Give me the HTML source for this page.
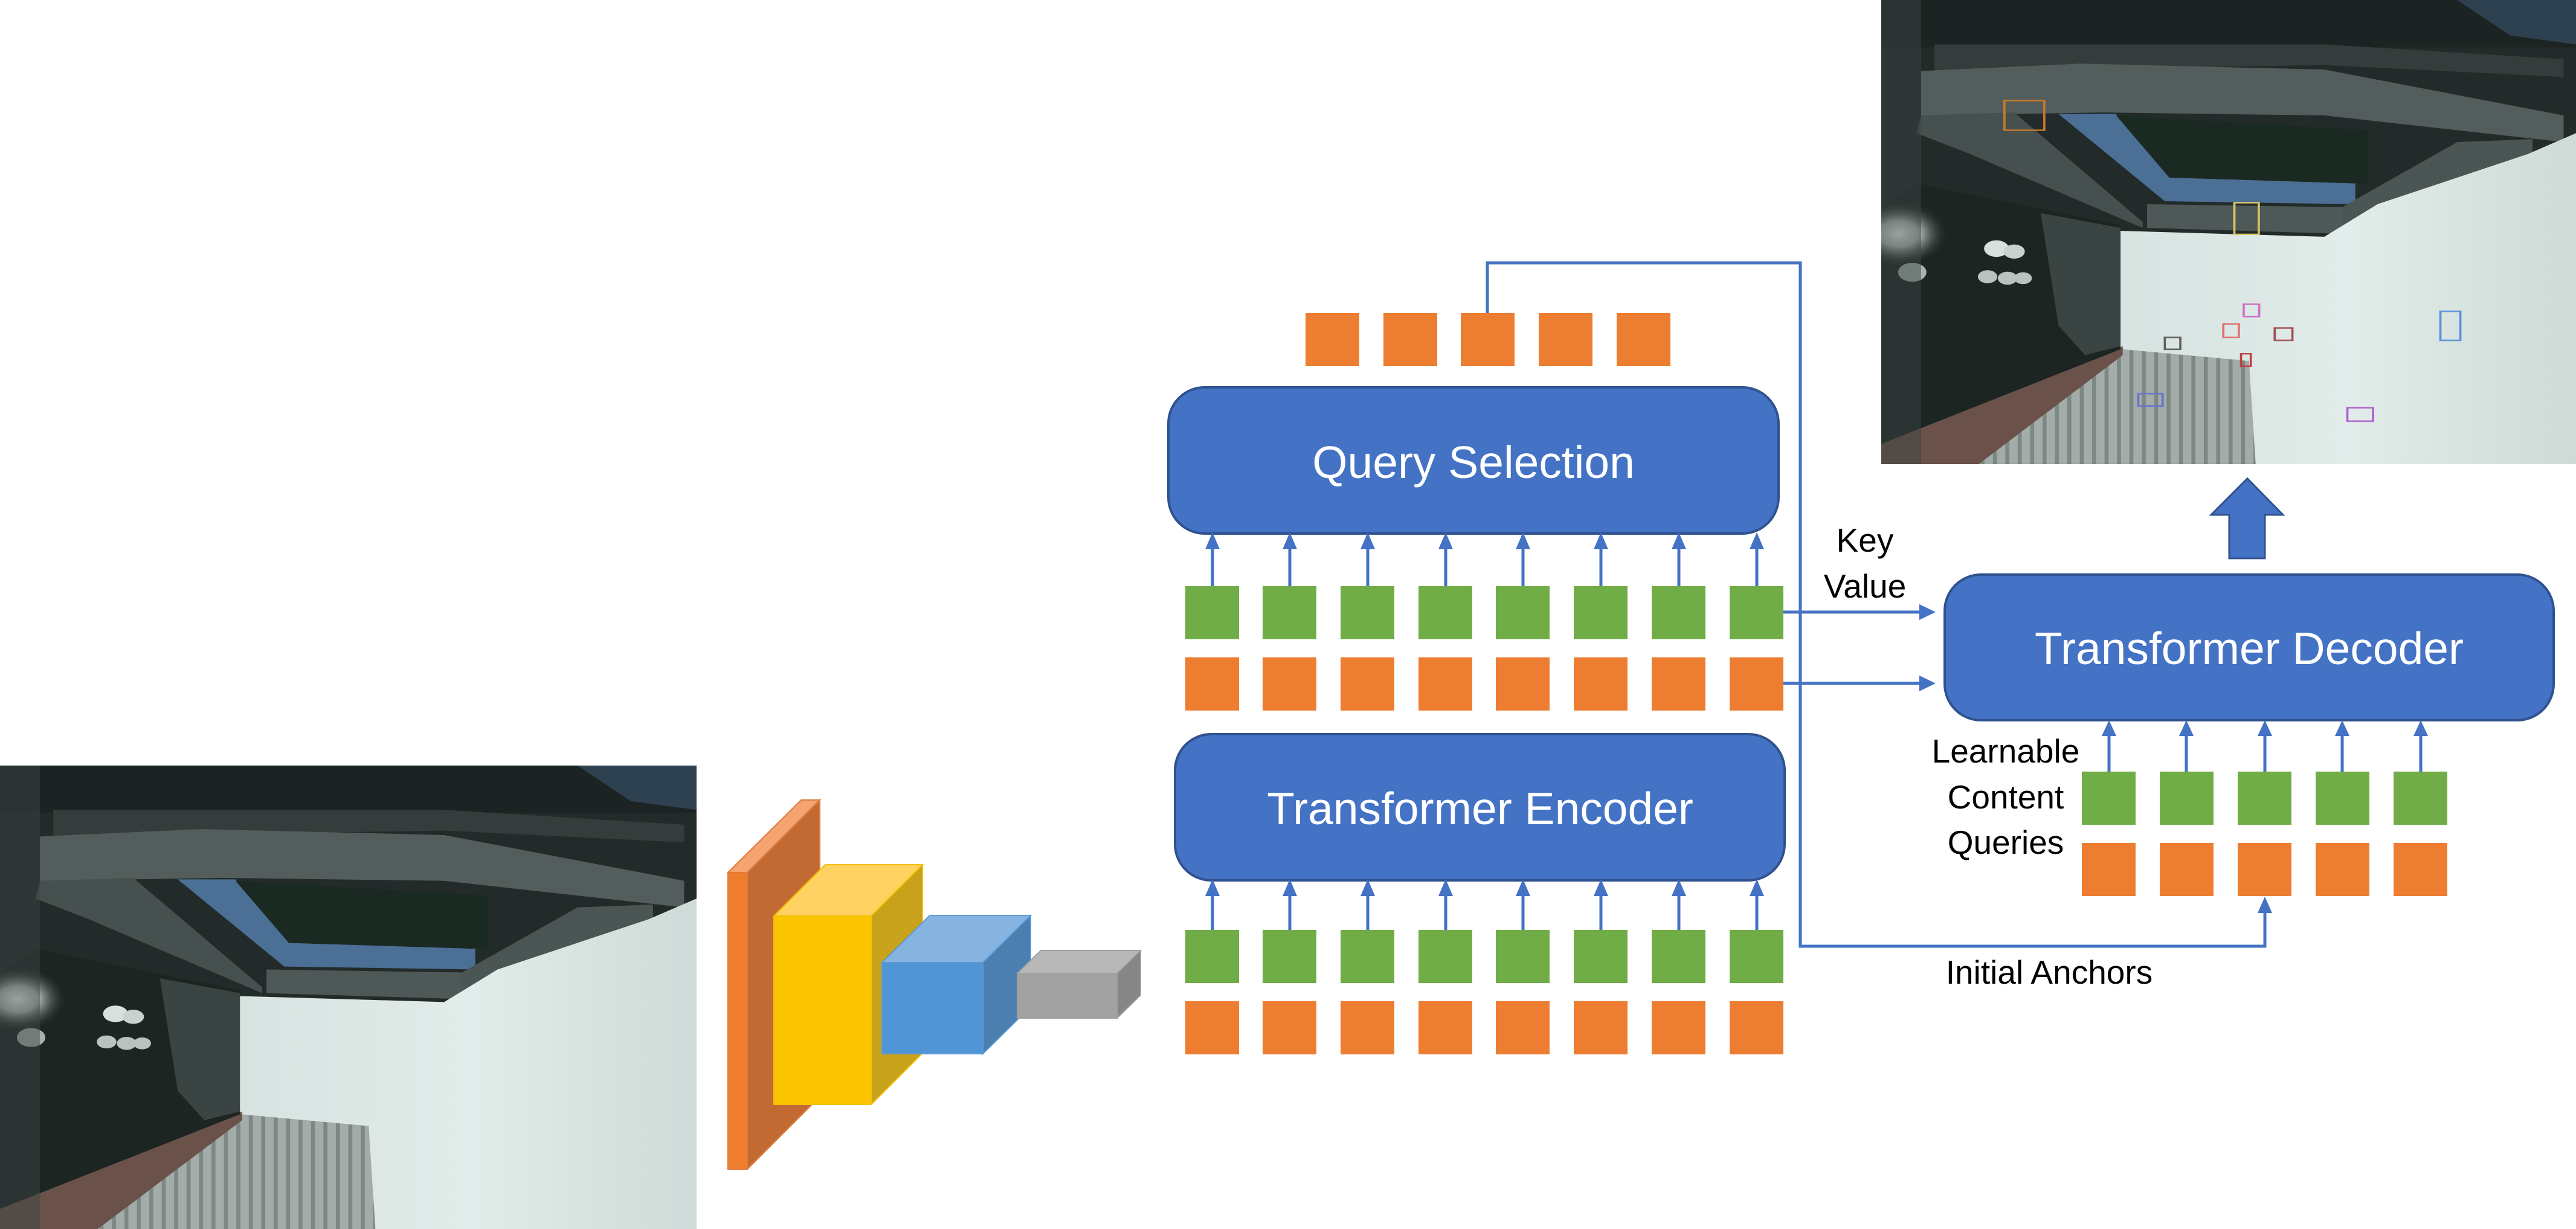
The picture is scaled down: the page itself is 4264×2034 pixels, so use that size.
<!DOCTYPE html>
<html><head><meta charset="utf-8"><style>
html,body{margin:0;padding:0;background:#fff;}
svg{display:block;}
text{font-family:"Liberation Sans",sans-serif;}
</style></head><body>
<svg width="4264" height="2034" viewBox="0 0 4264 2034" xmlns="http://www.w3.org/2000/svg">
<defs>
<linearGradient id="wall" x1="0" y1="0" x2="1" y2="0"><stop offset="0" stop-color="#d6e3e0"/><stop offset="0.5" stop-color="#e2ecea"/><stop offset="1" stop-color="#cfdbd8"/></linearGradient>
<radialGradient id="glow"><stop offset="0" stop-color="#ffffff"/><stop offset="0.4" stop-color="#dfe9e6" stop-opacity="0.8"/><stop offset="1" stop-color="#2a3331" stop-opacity="0"/></radialGradient>
<pattern id="stripes" width="28" height="40" patternUnits="userSpaceOnUse"><rect width="28" height="40" fill="#a3aca8"/><rect width="9" height="40" fill="#7d8783"/></pattern>
<symbol id="photo" viewBox="0 0 1568 1568" preserveAspectRatio="none">
<rect width="1568" height="1568" fill="#222b29"/>
<rect x="0" y="0" width="1568" height="160" fill="#1c2423"/>
<polygon points="1300,0 1568,0 1568,150 1420,120" fill="#2e4150"/>
<polygon points="120,150 1000,150 1540,200 1540,260 1000,220 120,240" fill="#343d3b"/>
<polygon points="90,240 450,215 1000,235 1540,390 1540,480 1000,390 500,380 90,390" fill="#535e5c"/>
<polygon points="90,390 300,380 590,750 590,770 200,520 80,450" fill="#46504e"/>
<polygon points="400,385 530,385 650,600 1070,620 1070,690 640,680" fill="#4b6f95"/>
<polygon points="530,390 1100,440 1100,620 650,600" fill="#1a2a22"/>
<polygon points="600,690 1040,700 1040,790 600,770" fill="#4e5856"/>
<polygon points="1040,700 1300,480 1470,470 1470,540 1110,720 1040,790" fill="#4b5553"/>
<polygon points="540,780 1000,800 1120,690 1460,520 1568,450 1568,1568 840,1568 830,1220 540,1180" fill="url(#wall)"/>
<polygon points="545,1180 830,1220 845,1568 220,1568" fill="url(#stripes)"/>
<polygon points="0,1500 545,1170 545,1200 220,1568 0,1568" fill="#6a524a"/>
<polygon points="80,620 540,760 540,1180 0,1500 0,700" fill="#1d2523"/>
<polygon points="360,720 540,770 540,1170 460,1200 400,1100" fill="#3a4442"/>
<circle cx="40" cy="790" r="110" fill="url(#glow)"/>
<circle cx="260" cy="840" r="28" fill="#d6e0dd"/><circle cx="300" cy="850" r="24" fill="#c8d2cf"/>
<circle cx="240" cy="935" r="22" fill="#b8c2bf"/><circle cx="285" cy="940" r="22" fill="#b8c2bf"/><circle cx="320" cy="940" r="20" fill="#b8c2bf"/><circle cx="70" cy="920" r="32" fill="#a8b2af"/>
<rect x="0" y="0" width="90" height="1568" fill="#3a4442" opacity="0.5"/>
</symbol>
</defs>

<!-- photos -->
<svg x="0" y="1267" width="1153" height="767" viewBox="0 0 1568 1568" preserveAspectRatio="none"><use href="#photo" width="1568" height="1568"/></svg>
<svg x="3114" y="0" width="1150" height="768" viewBox="0 0 1568 1568" preserveAspectRatio="none"><use href="#photo" width="1568" height="1568"/>
<g fill="none" stroke-width="5">
<rect x="278" y="340" width="90" height="100" stroke="#c8782c"/>
<rect x="797" y="685" width="55" height="107" stroke="#d8c86a"/>
<rect x="818" y="1028" width="35" height="42" stroke="#d070c8"/>
<rect x="772" y="1095" width="35" height="45" stroke="#e07070"/>
<rect x="888" y="1108" width="40" height="42" stroke="#a05050"/>
<rect x="640" y="1140" width="35" height="40" stroke="#606060"/>
<rect x="812" y="1195" width="22" height="42" stroke="#c04040"/>
<rect x="1262" y="1052" width="45" height="98" stroke="#5a90d8"/>
<rect x="580" y="1330" width="55" height="42" stroke="#6a70d0"/>
<rect x="1052" y="1378" width="58" height="45" stroke="#b060d0"/>
</g>
</svg>

<!-- backbone -->
<polygon points="1205,1444 1326,1324 1357,1324 1237,1444" fill="#f4a371" stroke="#e07b3c" stroke-width="2"/>
<polygon points="1237,1444 1357,1324 1357,1815 1237,1935" fill="#c26a34" stroke="#e07b3c" stroke-width="2"/>
<rect x="1205" y="1444" width="32" height="491" fill="#f07d2e" stroke="#e07b3c" stroke-width="2"/>
<polygon points="1281,1516 1366,1431 1527,1431 1442,1516" fill="#fed160" stroke="#f2c000" stroke-width="2"/>
<polygon points="1442,1516 1527,1431 1527,1743 1442,1828" fill="#c9a21c" stroke="#f2c000" stroke-width="2"/>
<rect x="1281" y="1516" width="161" height="312" fill="#fbc300" stroke="#f2c000" stroke-width="2"/>
<polygon points="1460,1593 1539,1515 1706,1515 1627,1593" fill="#87b3e0" stroke="#5b9bd5" stroke-width="2"/>
<polygon points="1627,1593 1706,1515 1706,1666 1627,1744" fill="#4a7fb0" stroke="#5b9bd5" stroke-width="2"/>
<rect x="1460" y="1593" width="167" height="151" fill="#5096d6" stroke="#5b9bd5" stroke-width="2"/>
<polygon points="1684,1611 1723,1573 1888,1573 1849,1611" fill="#b8b8b8" stroke="#a0a0a0" stroke-width="2"/>
<polygon points="1849,1611 1888,1573 1888,1647 1849,1685" fill="#868686" stroke="#a0a0a0" stroke-width="2"/>
<rect x="1684" y="1611" width="165" height="74" fill="#a2a2a2" stroke="#a0a0a0" stroke-width="2"/>

<!-- boxes -->
<g fill="#4472c4" stroke="#2f528f" stroke-width="4">
<rect x="1934" y="641" width="1010" height="242" rx="60"/>
<rect x="1945" y="1215" width="1009" height="242" rx="60"/>
<rect x="3219" y="951" width="1008" height="241" rx="60"/>
</g>
<g fill="#fff" font-size="75" text-anchor="middle">
<text x="2439" y="791">Query Selection</text>
<text x="2450" y="1364">Transformer Encoder</text>
<text x="3723" y="1099">Transformer Decoder</text>
</g>

<!-- token rows -->
<g fill="#70ad47">
<rect x="1962" y="970" width="89" height="88"/><rect x="2090" y="970" width="89" height="88"/><rect x="2219" y="970" width="89" height="88"/><rect x="2348" y="970" width="89" height="88"/><rect x="2476" y="970" width="89" height="88"/><rect x="2605" y="970" width="89" height="88"/><rect x="2734" y="970" width="89" height="88"/><rect x="2863" y="970" width="89" height="88"/>
<rect x="1962" y="1539" width="89" height="88"/><rect x="2090" y="1539" width="89" height="88"/><rect x="2219" y="1539" width="89" height="88"/><rect x="2348" y="1539" width="89" height="88"/><rect x="2476" y="1539" width="89" height="88"/><rect x="2605" y="1539" width="89" height="88"/><rect x="2734" y="1539" width="89" height="88"/><rect x="2863" y="1539" width="89" height="88"/>
<rect x="3446" y="1277" width="89" height="88"/><rect x="3575" y="1277" width="89" height="88"/><rect x="3704" y="1277" width="89" height="88"/><rect x="3833" y="1277" width="89" height="88"/><rect x="3962" y="1277" width="89" height="88"/>
</g>
<g fill="#ed7d31">
<rect x="1962" y="1088" width="89" height="88"/><rect x="2090" y="1088" width="89" height="88"/><rect x="2219" y="1088" width="89" height="88"/><rect x="2348" y="1088" width="89" height="88"/><rect x="2476" y="1088" width="89" height="88"/><rect x="2605" y="1088" width="89" height="88"/><rect x="2734" y="1088" width="89" height="88"/><rect x="2863" y="1088" width="89" height="88"/>
<rect x="1962" y="1657" width="89" height="88"/><rect x="2090" y="1657" width="89" height="88"/><rect x="2219" y="1657" width="89" height="88"/><rect x="2348" y="1657" width="89" height="88"/><rect x="2476" y="1657" width="89" height="88"/><rect x="2605" y="1657" width="89" height="88"/><rect x="2734" y="1657" width="89" height="88"/><rect x="2863" y="1657" width="89" height="88"/>
<rect x="3446" y="1395" width="89" height="88"/><rect x="3575" y="1395" width="89" height="88"/><rect x="3704" y="1395" width="89" height="88"/><rect x="3833" y="1395" width="89" height="88"/><rect x="3962" y="1395" width="89" height="88"/>
<rect x="2161" y="518" width="89" height="88"/><rect x="2290" y="518" width="89" height="88"/><rect x="2418" y="518" width="89" height="88"/><rect x="2547" y="518" width="89" height="88"/><rect x="2676" y="518" width="89" height="88"/>
</g>

<!-- connectors -->
<g stroke="#4472c4" stroke-width="5" fill="none">
<path d="M2007,970V905M2135,970V905M2264,970V905M2393,970V905M2521,970V905M2650,970V905M2779,970V905M2908,970V905"/>
<path d="M2007,1539V1479M2135,1539V1479M2264,1539V1479M2393,1539V1479M2521,1539V1479M2650,1539V1479M2779,1539V1479M2908,1539V1479"/>
<path d="M3491,1277V1214M3619,1277V1214M3749,1277V1214M3877,1277V1214M4007,1277V1214"/>
<path d="M2462,518V435H2980V1566H3749V1508"/>
<path d="M2952,1013H3180M2952,1131H3180"/>
</g>
<g fill="#4472c4">
<polygon points="1995,909 2007,881 2019,909"/><polygon points="2123,909 2135,881 2147,909"/><polygon points="2252,909 2264,881 2276,909"/><polygon points="2381,909 2393,881 2405,909"/><polygon points="2509,909 2521,881 2533,909"/><polygon points="2638,909 2650,881 2662,909"/><polygon points="2767,909 2779,881 2791,909"/><polygon points="2896,909 2908,881 2920,909"/>
<polygon points="1995,1483 2007,1455 2019,1483"/><polygon points="2123,1483 2135,1455 2147,1483"/><polygon points="2252,1483 2264,1455 2276,1483"/><polygon points="2381,1483 2393,1455 2405,1483"/><polygon points="2509,1483 2521,1455 2533,1483"/><polygon points="2638,1483 2650,1455 2662,1483"/><polygon points="2767,1483 2779,1455 2791,1483"/><polygon points="2896,1483 2908,1455 2920,1483"/>
<polygon points="3479,1218 3491,1192 3503,1218"/><polygon points="3607,1218 3619,1192 3631,1218"/><polygon points="3737,1218 3749,1192 3761,1218"/><polygon points="3865,1218 3877,1192 3889,1218"/><polygon points="3995,1218 4007,1192 4019,1218"/>
<polygon points="3737,1511 3749,1484 3761,1511"/>
<polygon points="3177,1000 3204,1013 3177,1026"/><polygon points="3177,1118 3204,1131 3177,1144"/>
<polygon points="3660,852 3720,792 3779,852 3749,852 3749,924 3690,924 3690,852" stroke="#2f528f" stroke-width="3"/>
</g>

<!-- labels -->
<g fill="#000" font-size="55" text-anchor="middle">
<text x="3087" y="913">Key</text>
<text x="3087" y="989">Value</text>
<text x="3320" y="1262">Learnable</text>
<text x="3320" y="1338">Content</text>
<text x="3320" y="1413">Queries</text>
<text x="3392" y="1628">Initial Anchors</text>
</g>
</svg>
</body></html>
